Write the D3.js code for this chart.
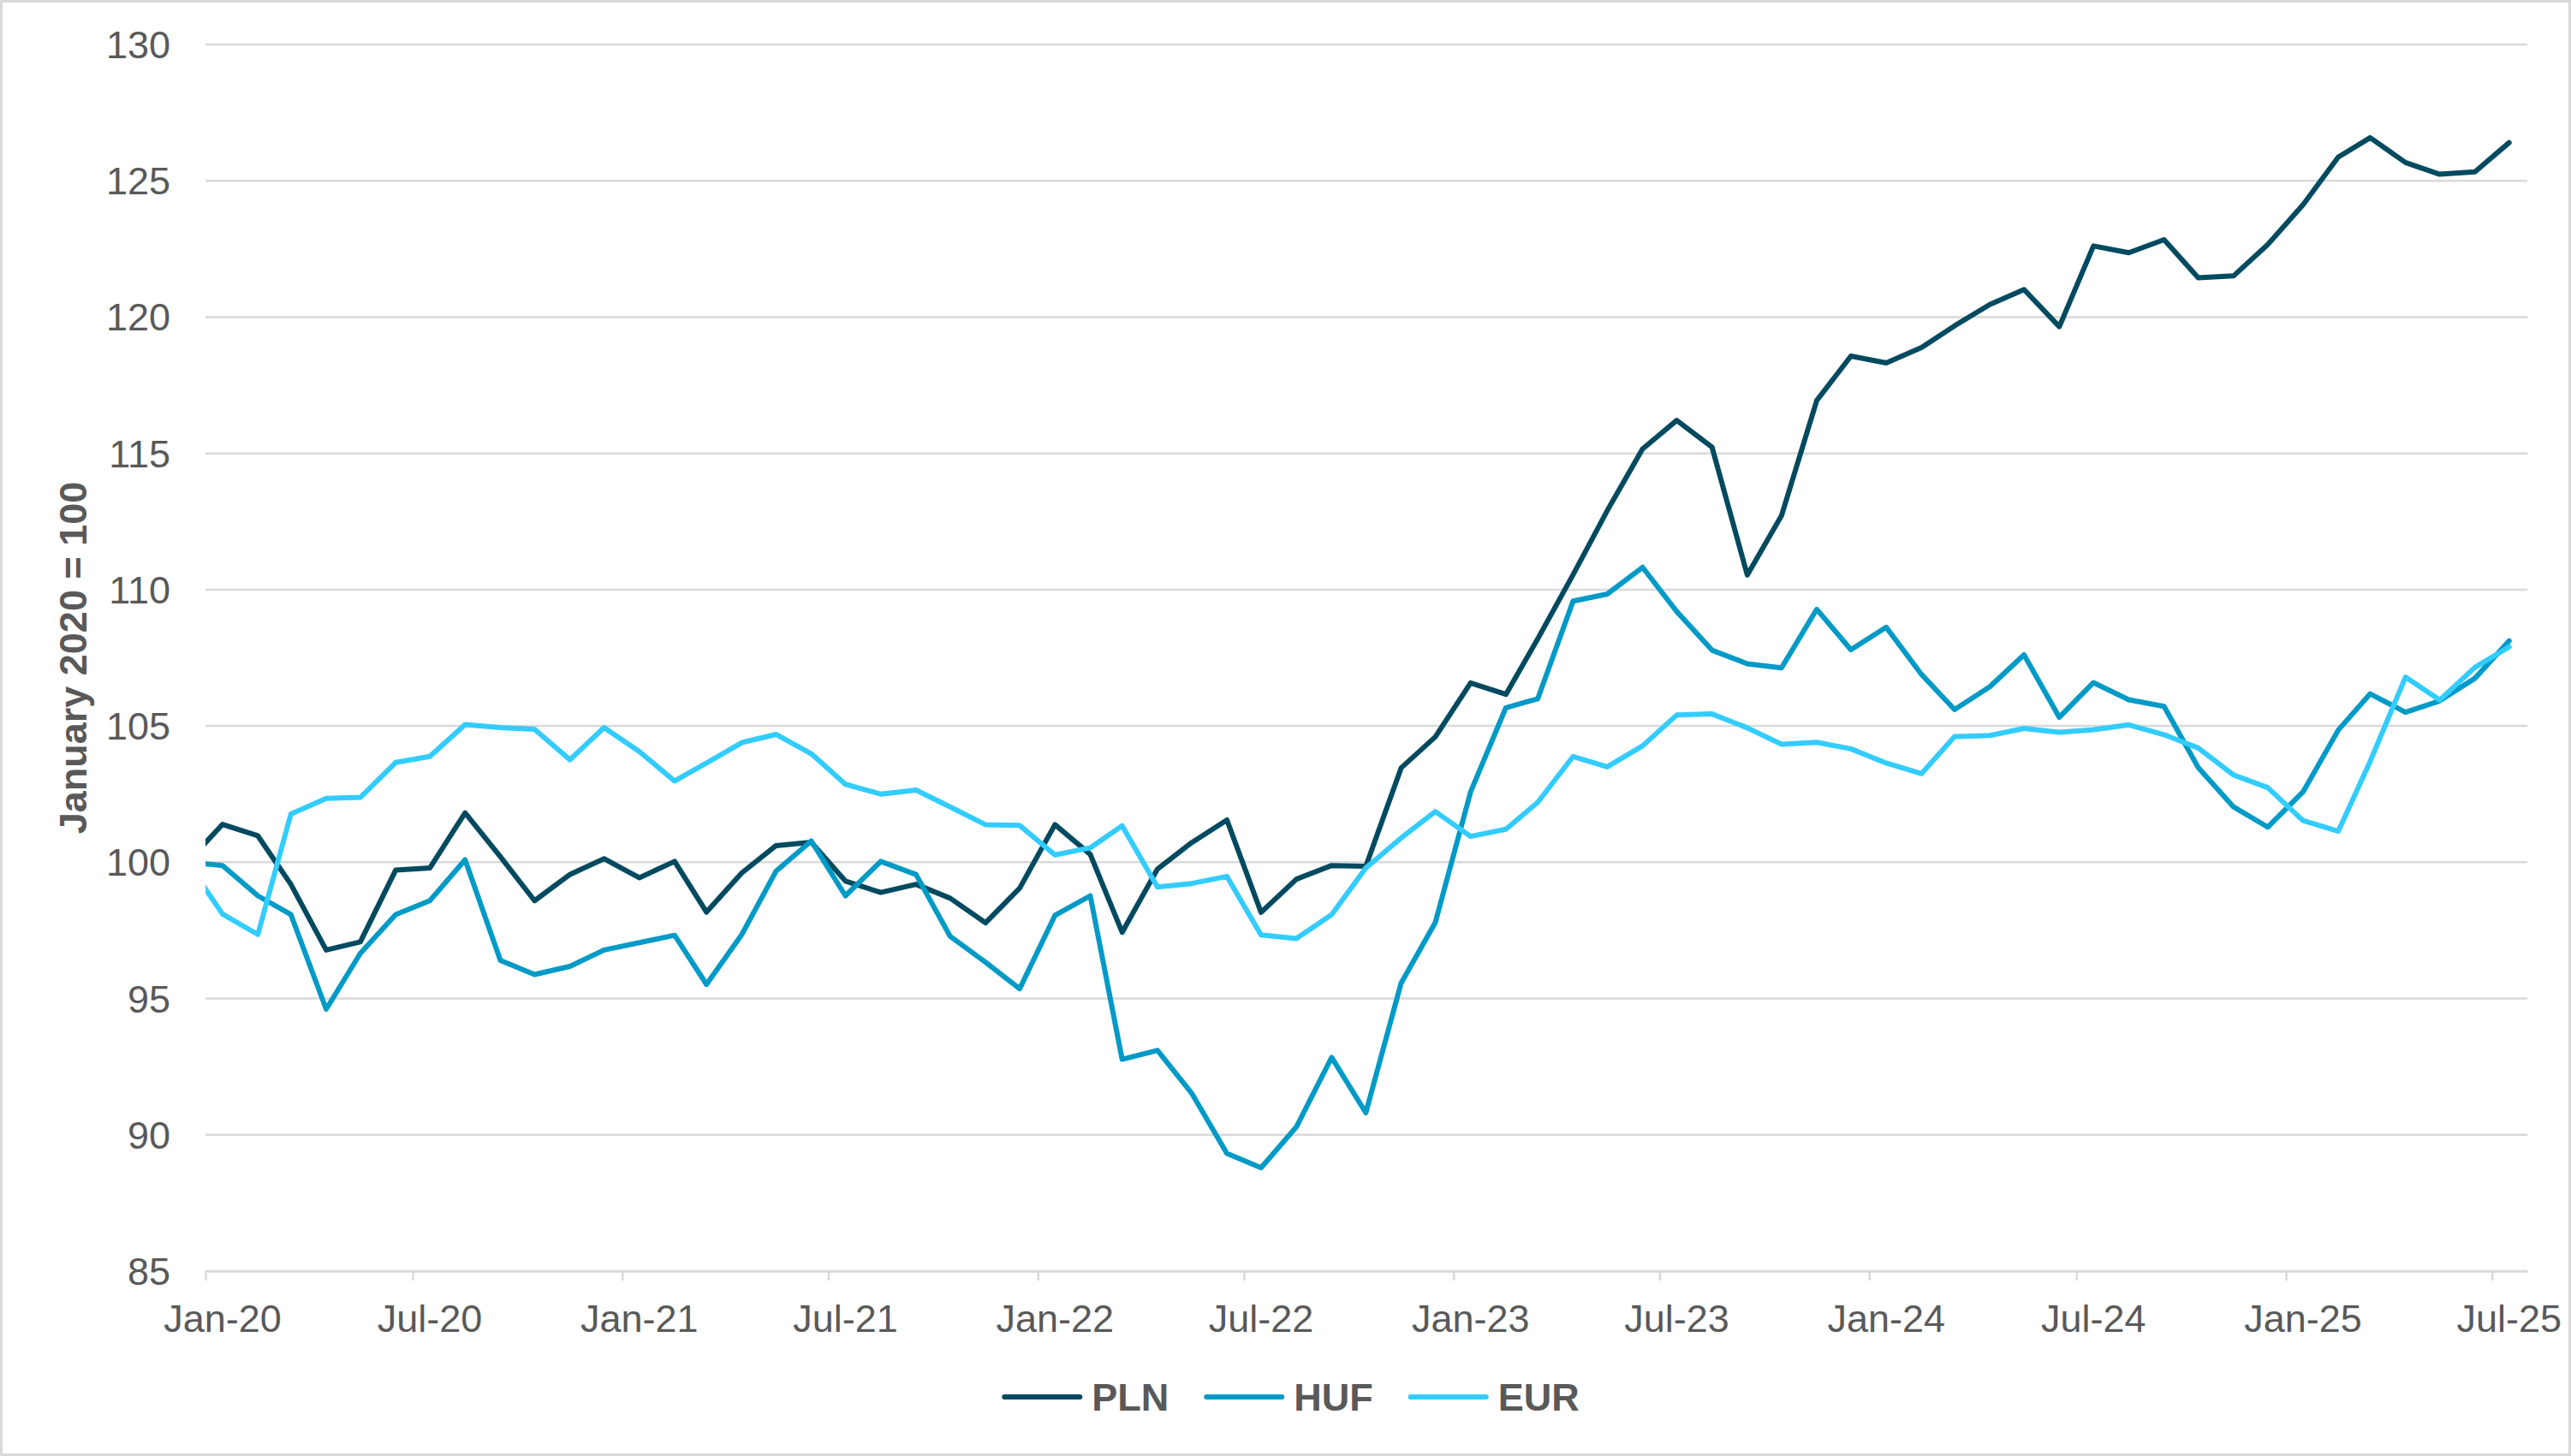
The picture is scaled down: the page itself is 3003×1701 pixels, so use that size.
<!DOCTYPE html>
<html>
<head>
<meta charset="utf-8">
<script src="https://cdn.jsdelivr.net/npm/d3@7"></script>
<style>
  body { margin: 0; background: #fff; }
  text { font-family: "Liberation Sans", Arial, sans-serif; }
</style>
</head>
<body>
<div class="line-chart__chart"></div>
<script>
// first value is Dec-19 (base = 100), it sits left of the axis and gets clipped
let firstMonth = "2019-12";

let pln = [100, 101.39, 100.97, 99.19, 96.78, 97.08, 99.71, 99.79, 101.81, 100.2, 98.59, 99.55,
  100.13, 99.43, 100.03, 98.17, 99.61, 100.61, 100.73, 99.31, 98.89, 99.19, 98.68, 97.78,
  99.05, 101.38, 100.29, 97.43, 99.75, 100.72, 101.55, 98.16, 99.38, 99.88, 99.85, 103.46,
  104.6, 106.58, 106.16, 108.2, 110.55, 112.9, 115.16, 116.21, 115.23, 110.54, 112.71, 116.94,
  118.57, 118.32, 118.88, 119.68, 120.46, 121.01, 119.65, 122.61, 122.36, 122.84, 121.44, 121.51,
  122.66, 124.12, 125.87, 126.58, 125.67, 125.24, 125.33, 126.4];

let huf = [100, 99.88, 98.77, 98.08, 94.61, 96.66, 98.08, 98.59, 100.09, 96.4, 95.88, 96.18,
  96.78, 97.05, 97.32, 95.52, 97.35, 99.67, 100.78, 98.77, 100.03, 99.55, 97.28, 96.33,
  95.36, 98.05, 98.77, 92.77, 93.1, 91.53, 89.32, 88.79, 90.29, 92.84, 90.81, 95.57,
  97.79, 102.58, 105.67, 106.0, 109.58, 109.84, 110.82, 109.2, 107.78, 107.28, 107.13, 109.28,
  107.8, 108.62, 106.89, 105.6, 106.44, 107.61, 105.32, 106.59, 105.96, 105.72, 103.47, 102.03,
  101.29, 102.58, 104.85, 106.18, 105.5, 105.92, 106.75, 108.12];

let eur = [100, 98.1, 97.35, 101.77, 102.34, 102.38, 103.66, 103.88, 105.05, 104.94, 104.88, 103.76,
  104.94, 104.06, 102.98, 103.64, 104.39, 104.69, 103.98, 102.86, 102.5, 102.65, 102.03, 101.38,
  101.35, 100.27, 100.53, 101.34, 99.09, 99.22, 99.48, 97.33, 97.2, 98.08, 99.79, 100.89,
  101.86, 100.95, 101.21, 102.2, 103.88, 103.5, 104.27, 105.4, 105.44, 104.93, 104.33, 104.4,
  104.16, 103.64, 103.25, 104.61, 104.65, 104.91, 104.77, 104.86, 105.04, 104.68, 104.19, 103.2,
  102.74, 101.53, 101.14, 103.7, 106.79, 105.95, 107.15, 107.9];

let seriesNames = ["PLN", "HUF", "EUR"];
let seriesColors = ["#004A60", "#009AC7", "#33CCFF"];

let xTickLabels = ["Jan-20", "Jul-20", "Jan-21", "Jul-21", "Jan-22", "Jul-22",
  "Jan-23", "Jul-23", "Jan-24", "Jul-24", "Jan-25", "Jul-25"];
let yTicks = [85, 90, 95, 100, 105, 110, 115, 120, 125, 130];
let yTitle = "January 2020 = 100";

let config = {
  width: 3003,
  height: 1701,
  margin: { top: 52, right: 51, bottom: 216, left: 240 },
  grid: "#D9D9D9",
  text: "#595959",
  fontSize: 45,
  lineWidth: 6
};

function midMonth(d) {
  return new Date(d.getFullYear(), d.getMonth(), 16);
}

function makeSeries(values) {
  let start = d3.timeParse("%Y-%m")(firstMonth);
  return values.map((v, i) => ({
    date: midMonth(d3.timeMonth.offset(start, i)),
    value: v
  }));
}

function renderChart() {
  let margin = config.margin;
  let width = config.width - margin.left - margin.right;
  let height = config.height - margin.top - margin.bottom;

  let root = d3.select(".line-chart__chart").append("svg")
    .attr("width", config.width)
    .attr("height", config.height);

  root.append("rect")
    .attr("x", 1.5).attr("y", 1.5)
    .attr("width", config.width - 3).attr("height", config.height - 3)
    .attr("fill", "#fff")
    .attr("stroke", config.grid)
    .attr("stroke-width", 3);

  let svg = root.append("g")
    .attr("transform", "translate(" + margin.left + "," + margin.top + ")");

  let x = d3.scaleTime()
    .domain([new Date(2020, 0, 1), new Date(2025, 7, 1)])
    .range([0, width]);
  let y = d3.scaleLinear().domain([85, 130]).range([height, 0]);

  // gridlines
  svg.append("g").selectAll("line")
    .data(yTicks)
    .join("line")
    .attr("x1", 0).attr("x2", width)
    .attr("y1", d => y(d)).attr("y2", d => y(d))
    .attr("stroke", config.grid)
    .attr("stroke-width", 2.5);

  // y labels
  svg.append("g").selectAll("text")
    .data(yTicks)
    .join("text")
    .attr("x", -41)
    .attr("y", d => y(d) + 16)
    .attr("text-anchor", "end")
    .attr("fill", config.text)
    .attr("font-size", config.fontSize)
    .text(d => d);

  // x ticks at month start, labels on the mid-month point
  let parseTick = d3.timeParse("%b-%y");
  let tickDates = xTickLabels.map(t => parseTick(t));

  let xAxis = d3.axisBottom(x)
    .tickValues(tickDates)
    .tickSize(11)
    .tickSizeOuter(0)
    .tickFormat("");

  let gx = svg.append("g")
    .attr("transform", "translate(0," + height + ")")
    .call(xAxis);
  gx.select(".domain").attr("stroke", config.grid).attr("stroke-width", 2.5);
  gx.selectAll(".tick line").attr("stroke", config.grid).attr("stroke-width", 2.5);

  svg.append("g").selectAll("text")
    .data(tickDates)
    .join("text")
    .attr("x", d => x(midMonth(d)))
    .attr("y", height + 71)
    .attr("text-anchor", "middle")
    .attr("fill", config.text)
    .attr("font-size", config.fontSize)
    .text((d, i) => xTickLabels[i]);

  // y title
  root.append("text")
    .attr("transform", "translate(101," + (margin.top + height / 2) + ") rotate(-90)")
    .attr("text-anchor", "middle")
    .attr("fill", config.text)
    .attr("font-size", config.fontSize)
    .attr("font-weight", "bold")
    .text(yTitle);

  // lines
  svg.append("clipPath").attr("id", "plot-clip")
    .append("rect")
    .attr("width", width).attr("height", height + 5).attr("y", -5);

  let lineValues = d3.line()
    .x(d => x(d.date))
    .y(d => y(d.value));

  let allSeries = [pln, huf, eur].map(makeSeries);
  let lines = svg.append("g").attr("clip-path", "url(#plot-clip)");
  allSeries.forEach((data, i) => {
    lines.append("path")
      .data([data])
      .attr("fill", "none")
      .attr("stroke", seriesColors[i])
      .attr("stroke-width", config.lineWidth)
      .attr("stroke-linejoin", "round")
      .attr("stroke-linecap", "round")
      .attr("d", lineValues);
  });

  // legend
  let legend = root.append("g").attr("transform", "translate(0,1632)");
  let lineLen = 88, gap = 14, itemGap = 44;
  let items = legend.selectAll("g")
    .data(seriesNames)
    .join("g");
  items.append("line")
    .attr("x1", 0).attr("x2", lineLen)
    .attr("stroke", (d, i) => seriesColors[i])
    .attr("stroke-width", config.lineWidth)
    .attr("stroke-linecap", "round");
  items.append("text")
    .attr("x", lineLen + gap)
    .attr("y", 16)
    .attr("fill", config.text)
    .attr("font-size", config.fontSize)
    .attr("font-weight", "bold")
    .text(d => d);

  let offsets = [];
  let total = 0;
  items.each(function () {
    offsets.push(total);
    let w = lineLen + gap + d3.select(this).select("text").node().getComputedTextLength();
    total += w + itemGap;
  });
  total -= itemGap;
  let startX = 1509 - total / 2;
  items.attr("transform", (d, i) => "translate(" + (startX + offsets[i]) + ",0)");
}

renderChart();
</script>
</body>
</html>
